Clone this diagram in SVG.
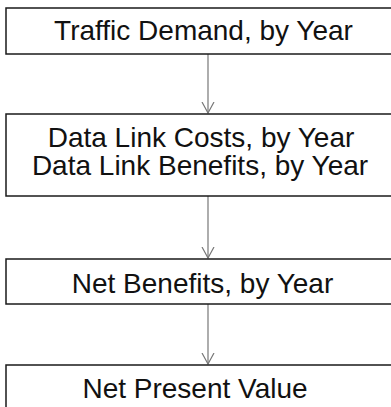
<svg xmlns="http://www.w3.org/2000/svg" width="391" height="407" viewBox="0 0 391 407">
<style>
.box{fill:#fff;stroke:#1a1a1a;stroke-width:1.5}
.t{font-family:"Liberation Sans",Arial,sans-serif;font-size:28px;fill:#111;text-anchor:middle}
.c{stroke:#777;stroke-width:1.2;fill:none}
</style>
<defs>
<marker id="ah" markerWidth="14" markerHeight="14" refX="11" refY="7" orient="auto" markerUnits="userSpaceOnUse" viewBox="0 0 14 14">
<path d="M0,1 L11,7 L0,13" fill="none" stroke="#777" stroke-width="1.2"/>
</marker>
</defs>
<rect width="391" height="407" fill="#fff"/>
<g id="connectors">
<line class="c" x1="208" y1="54" x2="208" y2="113" marker-end="url(#ah)"/>
<line class="c" x1="208" y1="196" x2="208" y2="258" marker-end="url(#ah)"/>
<line class="c" x1="208" y1="304" x2="208" y2="364" marker-end="url(#ah)"/>
</g>
<g id="traffic">
<rect class="box" x="6" y="8" width="400" height="46"/>
<text class="t" x="203.5" y="39.5">Traffic Demand, by Year</text>
</g>
<g id="datalink">
<rect class="box" x="6" y="114" width="400" height="82"/>
<text class="t" x="201" y="147">Data Link Costs, by Year</text>
<text class="t" x="200" y="175">Data Link Benefits, by Year</text>
</g>
<g id="netbenefits">
<rect class="box" x="6" y="259" width="400" height="45"/>
<text class="t" x="202.5" y="293">Net Benefits, by Year</text>
</g>
<g id="npv">
<rect class="box" x="6" y="365" width="400" height="60"/>
<text class="t" x="195" y="398">Net Present Value</text>
</g>
</svg>
